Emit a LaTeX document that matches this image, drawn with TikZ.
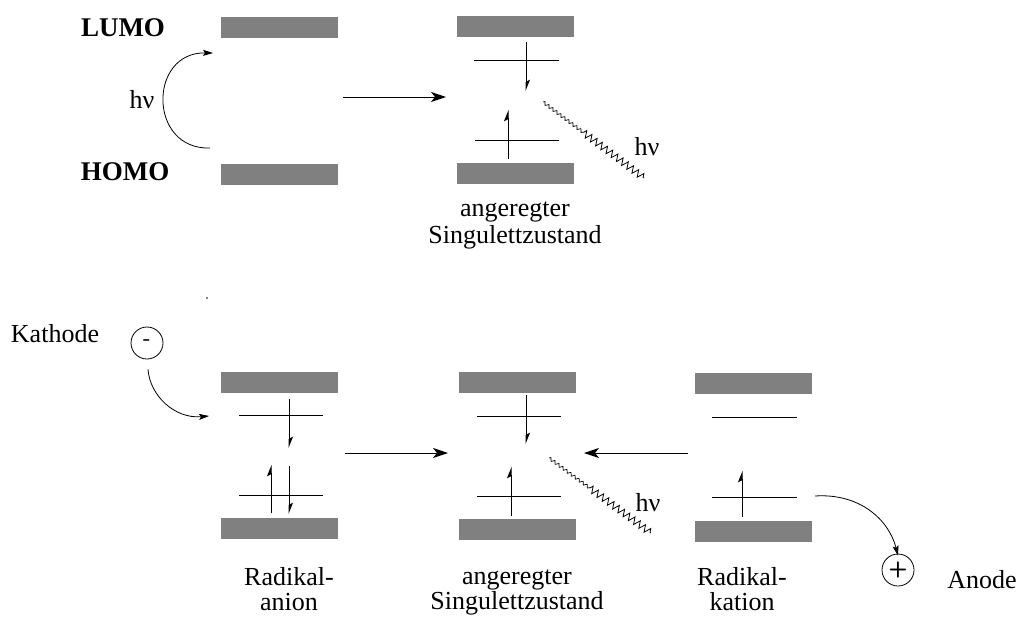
\documentclass[tikz,border=0pt]{standalone}
\usepackage{fontspec}
\setmainfont{Liberation Serif}
\usetikzlibrary{arrows.meta,decorations.pathmorphing,calc}
\definecolor{bargray}{RGB}{128,128,128}
\tikzset{
  bar/.style={fill=bargray,draw=none,minimum width=117pt,minimum height=21pt,inner sep=0pt},
  lvl/.style={line width=0.9pt},
  spin/.style={line width=1pt,-{Stealth[harpoon,length=10pt,width=8pt,inset=2pt]}},
  react/.style={line width=1pt,-{Stealth[length=15pt,width=10pt,inset=4pt]}},
  curv/.style={line width=0.8pt,-{Stealth[length=10pt,width=6pt,inset=2pt]}},
  wavea/.style={line width=0.7pt,decorate,decoration={zigzag,amplitude=1.5pt,segment length=5pt}},
  waveb/.style={line width=0.8pt,decorate,decoration={zigzag,amplitude=3.5pt,segment length=6.5pt}},
  txt/.style={font=\fontsize{26}{30}\selectfont,inner sep=0pt},
  lbl/.style={font=\fontsize{26}{25}\selectfont,inner sep=0pt,align=center,anchor=north},
  btxt/.style={font=\fontsize{27}{30}\selectfont\bfseries,inner sep=0pt},
  elec/.style={circle,draw,line width=0.8pt,minimum size=32pt,inner sep=0pt,font=\fontsize{22}{22}\selectfont\sffamily\bfseries}
}
\begin{document}
\begin{tikzpicture}[x=1pt,y=-1pt]
\useasboundingbox (0,0) rectangle (1019,616);
% ---------- top row ----------
\node[btxt] (lumo) at (123,28) {LUMO};
\node[btxt] (homo) at (125,172) {HOMO};
\node[bar] (b1u) at (279.5,27) {};
\node[bar] (b1l) at (279.5,174) {};
\node[txt] (hv1) at (142,100) {hν};
\coordinate (c1s) at (210,148);
\coordinate (c1e) at (213,53);
\draw[curv] (c1s) .. controls (148,150) and (148,52) .. (c1e);

\coordinate (r1s) at (343,97);
\coordinate (r1e) at (446,97);
\draw[react] (r1s) -- (r1e);

\node[bar] (b2u) at (515.5,26.5) {};
\node[bar] (b2l) at (515.5,173.5) {};
\draw[lvl] (474,60) coordinate (l2a) -- (559,60) coordinate (l2b);
\draw[lvl] (475,140) coordinate (l2c) -- (559,140) coordinate (l2d);
\draw[spin] (526,42) coordinate (s2a) -- (526,91) coordinate (s2b);
\draw[spin] (508,159) coordinate (s2c) -- (508,110) coordinate (s2d);
\coordinate (w1s) at (543,102);
\coordinate (w1e) at (644,178);
\coordinate (w1m) at ($(w1s)!0.4!(w1e)$);
\draw[wavea] (w1s) -- (w1m);
\draw[waveb] (w1m) -- (w1e);
\node[txt] (hv2) at (647,147) {hν};
\node[lbl,font=\fontsize{26}{27}\selectfont] (t2) at (515,202) {angeregter\\Singulettzustand};

\fill (207,298) circle (0.9pt);

% ---------- bottom row ----------
\node[txt] (kath) at (55,334) {Kathode};
\node[elec] (minus) at (147,343) {-};
\coordinate (c2e) at (209,416);
\draw[curv] (minus.south) ++(1,10) .. controls (150,396) and (175,419) .. (c2e);

\node[bar] (b3u) at (279.5,382) {};
\node[bar] (b3l) at (279.5,528.5) {};
\draw[lvl] (239,415) -- (323,415);
\draw[lvl] (239,495) -- (323,495);
\draw[spin] (289,399) -- (289,448);
\draw[spin] (271,513) -- (271,465);
\draw[spin] (289,466) -- (289,514);
\node[lbl] (t3) at (289,567) {Radikal-\\anion};

\coordinate (r2s) at (345,453);
\coordinate (r2e) at (448,453);
\draw[react] (r2s) -- (r2e);

\node[bar] (b4u) at (517.5,382.5) {};
\node[bar] (b4l) at (517.5,529) {};
\draw[lvl] (477,416) -- (561,416);
\draw[lvl] (477,496) -- (561,496);
\draw[spin] (526,395) -- (526,444);
\draw[spin] (511,516) -- (511,467);
\coordinate (w2s) at (549,458);
\coordinate (w2e) at (651,533);
\coordinate (w2m) at ($(w2s)!0.4!(w2e)$);
\draw[wavea] (w2s) -- (w2m);
\draw[waveb] (w2m) -- (w2e);
\node[txt] (hv3) at (648,503) {hν};
\node[lbl] (t4) at (517,570) {angeregter\\Singulettzustand};

\coordinate (r3s) at (688,453);
\coordinate (r3e) at (584,453);
\draw[react] (r3s) -- (r3e);

\node[bar] (b5u) at (753.5,383.5) {};
\node[bar] (b5l) at (753.5,531) {};
\draw[lvl] (712,417) -- (797,417);
\draw[lvl] (712,497) -- (797,497);
\draw[spin] (742,517) -- (742,471);
\node[lbl] (t5) at (742,567) {Radikal-\\kation};

\node[elec] (plus) at (898,570) {+};
\node[txt] (anode) at (982,580) {Anode};
\coordinate (c3s) at (815,496);
\draw[curv] (c3s) .. controls (860,493) and (889,520) .. ([yshift=-2pt]plus.north);
\end{tikzpicture}
\end{document}
